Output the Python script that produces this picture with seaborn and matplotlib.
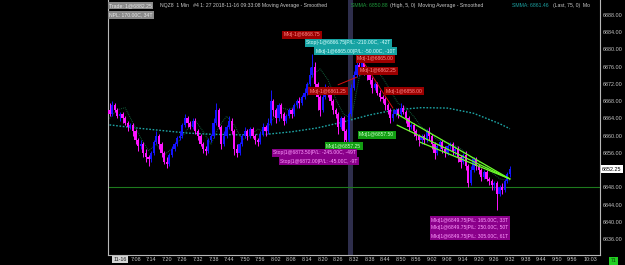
import matplotlib
matplotlib.use("Agg")
import matplotlib.pyplot as plt
import matplotlib.transforms as mtrans
import numpy as np
import pandas as pd
import seaborn as sns

# ---------------- data ----------------
first_open = 6866.0
closes = [6865, 6867, 6866, 6864.5, 6865, 6864, 6863, 6862, 6862.5, 6861,
          6859, 6857.5, 6858, 6856, 6855, 6854.5, 6856, 6858.5, 6860, 6858,
          6856, 6854, 6853.5, 6855.5, 6857, 6858, 6859.5, 6860, 6862.5, 6864,
          6863, 6862, 6863.5, 6861, 6860, 6858, 6857, 6856.5, 6859, 6860,
          6863, 6866, 6862, 6858, 6860, 6862, 6863.5, 6861, 6857, 6856,
          6858, 6860, 6861, 6860, 6861.5, 6860, 6859, 6858.5, 6860.5, 6862,
          6861, 6863, 6868, 6866, 6864, 6867, 6865, 6863.5, 6864.5, 6866,
          6865, 6867, 6868, 6867.5, 6869, 6870, 6872, 6874, 6876, 6872,
          6869, 6866, 6869, 6871, 6870, 6868, 6866, 6865, 6862, 6864,
          6861, 6859, 6865, 6871, 6874, 6876.5, 6875, 6877, 6875, 6874,
          6873, 6871, 6872, 6870, 6869, 6868.5, 6867, 6866, 6864, 6865,
          6866, 6865, 6866.5, 6865.5, 6864, 6862, 6862.5, 6861, 6860, 6859,
          6860, 6859, 6861, 6860, 6858, 6856, 6857.5, 6858.5, 6857, 6856,
          6857.5, 6858, 6856.5, 6857, 6855, 6854, 6855.5, 6853, 6849, 6852,
          6854.5, 6853, 6852, 6850.5, 6851.5, 6850, 6849.5, 6848.5, 6849, 6846.5,
          6848, 6847.5, 6849.5, 6851, 6852.25]
highs = [6867.5, 6868, 6867.5, 6866.5, 6865.5, 6865.5, 6864.5, 6863.5, 6863, 6863,
         6861.5, 6859.5, 6859, 6858.5, 6857, 6855.5, 6856.5, 6859, 6861, 6860.5,
         6858.5, 6856.5, 6855, 6856, 6857.5, 6858.5, 6860, 6861, 6863, 6865,
         6864.5, 6863.5, 6864, 6864, 6861.5, 6860.5, 6858.5, 6857.5, 6859.5, 6860.5,
         6864, 6867.5, 6866.5, 6862.5, 6861, 6862.5, 6864.5, 6864, 6861.5, 6858,
         6858.5, 6860.5, 6862, 6861.5, 6862, 6862, 6860.5, 6859.5, 6861, 6863,
         6862.5, 6864, 6870.5, 6868.5, 6866.5, 6867.5, 6867.5, 6865.5, 6865, 6866.5,
         6866.5, 6867.5, 6868.5, 6869, 6869.5, 6871, 6872.5, 6876, 6879, 6877,
         6872.5, 6869.5, 6870, 6872, 6871.5, 6870.5, 6868.5, 6866.5, 6865.5, 6864.5,
         6864.5, 6861.5, 6865.5, 6872, 6875, 6877.5, 6877.5, 6878, 6877.5, 6875.5,
         6874.5, 6873.5, 6872.5, 6872.5, 6870.5, 6869.5, 6869, 6867.5, 6866.5, 6866,
         6866.5, 6866.5, 6867.5, 6867, 6866, 6864.5, 6863, 6863, 6861.5, 6860.5,
         6860.5, 6860.5, 6861.5, 6862, 6860.5, 6858.5, 6858, 6859, 6859, 6857.5,
         6858, 6858.5, 6858.5, 6857.5, 6857.5, 6855.5, 6856, 6856.5, 6853.5, 6853,
         6855, 6855, 6853.5, 6852.5, 6852, 6852, 6850.5, 6850, 6849.5, 6849.5,
         6848.5, 6849, 6850, 6851.5, 6853]
lows = [6864.5, 6864.5, 6865.5, 6864, 6863.5, 6863, 6862.5, 6861, 6861.5, 6860,
        6858, 6856.5, 6857, 6855, 6854, 6853, 6854, 6855.5, 6858, 6857,
        6855, 6853.5, 6852.5, 6853, 6855, 6856.5, 6857.5, 6859, 6859.5, 6862,
        6862, 6861.5, 6861.5, 6860.5, 6859, 6857.5, 6856, 6855.5, 6856, 6858.5,
        6859.5, 6862.5, 6861.5, 6857, 6857.5, 6859.5, 6861.5, 6860.5, 6855.5, 6855,
        6855.5, 6857.5, 6859.5, 6859, 6859.5, 6859.5, 6858, 6857.5, 6858, 6860,
        6860, 6860.5, 6862.5, 6864.5, 6863, 6863.5, 6864, 6862.5, 6863, 6864,
        6864, 6864.5, 6866.5, 6866.5, 6867, 6868.5, 6869.5, 6871.5, 6873.5, 6871,
        6866, 6864.5, 6865.5, 6868.5, 6869, 6867, 6865, 6864, 6860.5, 6861.5,
        6858, 6857, 6858.5, 6864.5, 6870.5, 6873.5, 6874, 6874.5, 6874, 6873,
        6872, 6870, 6870.5, 6869.5, 6868, 6867.5, 6866, 6865, 6863, 6863.5,
        6864.5, 6864, 6864.5, 6865, 6863, 6861, 6861.5, 6860, 6859, 6857.5,
        6858, 6858, 6858.5, 6859, 6857, 6854.5, 6855.5, 6857, 6856, 6855,
        6855.5, 6857, 6855.5, 6855.5, 6854, 6852.5, 6853.5, 6852, 6848, 6848.5,
        6851.5, 6852, 6851, 6849.5, 6850, 6849.5, 6848.5, 6847.5, 6847.5, 6842.8,
        6846, 6846.5, 6847, 6849, 6850.5]

slow_idx = [0, 10, 20, 30, 40, 50, 60, 70, 80, 90, 100, 110, 120, 130, 140, 150, 154]
slow_ma = [6862.5, 6861.8, 6861.2, 6860.6, 6860.3, 6860.2, 6860.3, 6860.9, 6861.8,
           6863.2, 6864.8, 6866.0, 6866.5, 6866.4, 6865.2, 6862.8, 6861.6]
fast_idx = [0, 3, 6, 9, 12, 15, 18, 21, 24, 27, 30, 33, 36, 39, 42, 45, 48, 51, 54,
            57, 60, 63, 66, 69, 72, 75, 78, 81, 84, 87, 90, 93, 96, 99, 102, 105,
            108, 111, 114, 117, 120, 123, 126, 129, 132, 135, 138, 141, 144, 147, 150, 154]
fast_ma = [6864, 6866, 6866.5, 6863, 6859.5, 6856.5, 6858, 6855.5, 6857, 6859, 6861.5,
           6863.5, 6861, 6858, 6862, 6864.5, 6862.5, 6859, 6860, 6861.5, 6861, 6864,
           6866.5, 6866, 6867, 6869.5, 6874, 6875.5, 6873, 6868.5, 6865, 6864, 6873.5,
           6876, 6875.5, 6873.5, 6870.5, 6867.5, 6866.5, 6864.5, 6862, 6861, 6859,
           6858.5, 6858, 6857, 6855.5, 6854, 6853.5, 6851.5, 6850, 6849.5]

time_tick_pos = [4] + list(range(10, 179, 6)) + [185]
time_tick_labels = ["11-16", "7:08", "7:14", "7:20", "7:26", "7:32", "7:38", "7:44",
                    "7:50", "7:56", "8:02", "8:08", "8:14", "8:20", "8:26", "8:32",
                    "8:38", "8:44", "8:50", "8:56", "9:02", "9:08", "9:14", "9:20",
                    "9:26", "9:32", "9:38", "9:44", "9:50", "9:56", "10:03"]
price_ticks = [6888, 6884, 6880, 6876, 6872, 6868, 6864, 6860, 6856, 6852, 6848,
               6844, 6840, 6836]
last_price = 6852.25
level_line = 6848.0

# order labels: (text, bar position, price, kind)
order_labels = [
    ("Mkt|-1@6868.75", 67.1, 6883.4, "red"),
    ("Stop|-1@6866.75|P/L: -210.00C, -42T", 75.6, 6881.6, "teal"),
    ("Mkt|-1@6865.00|P/L: -50.00C, -10T", 79.4, 6879.6, "teal"),
    ("Mkt|-1@6865.00", 95.2, 6877.8, "red"),
    ("Mkt|-1@6862.25", 96.3, 6875.1, "red"),
    ("Mkt|-1@6861.25", 77.1, 6870.3, "red"),
    ("Mkt|-1@6858.00", 106.3, 6870.3, "red"),
    ("Mkt|1@6857.50", 96.0, 6860.2, "green"),
    ("Mkt|1@6857.25", 83.3, 6857.6, "green"),
    ("Stop|1@6873.50|P/L: -245.00C, -49T", 62.9, 6856.0, "purple"),
    ("Stop|1@6872.00|P/L: -45.00C, -9T", 65.6, 6854.1, "purple"),
    ("Mkt|1@6849.75|P/L: 165.00C, 33T", 123.7, 6840.4, "purple"),
    ("Mkt|1@6849.75|P/L: 250.00C, 50T", 123.7, 6838.6, "purple"),
    ("Mkt|1@6849.75|P/L: 305.00C, 61T", 123.7, 6836.7, "purple"),
]
# drawn trend lines: (x0, p0, x1, p1)
lime_lines = [(110.6, 6865.0, 154.0, 6849.95),
              (110.6, 6862.45, 154.0, 6849.95),
              (119.4, 6858.5, 154.0, 6849.95)]
red_lines = [(87.9, 6871.8, 95.2, 6873.6),
             (97.1, 6877.6, 109.0, 6866.4)]
band = (91.6, 93.8)

# ---------------- style ----------------
sns.set_theme(style="dark", rc={"axes.facecolor": "black", "figure.facecolor": "black"})
plt.rcParams["font.family"] = ["Liberation Sans", "DejaVu Sans"]

W, H = 625, 265
fig = plt.figure(figsize=(W / 100, H / 100), dpi=100, facecolor="black")
ax = fig.add_axes([108 / W, 10 / H, 492 / W, 255 / H])
ax.set_facecolor("black")

n = len(closes)
opens = [first_open] + closes[:-1]
df = pd.DataFrame({"i": np.arange(n), "open": opens, "close": closes,
                   "high": highs, "low": lows})
df["up"] = df["close"] >= df["open"]
df["color"] = np.where(df["up"], "#1414ff", "#ff14ff")
df["bottom"] = df[["open", "close"]].min(axis=1)
df["height"] = (df["close"] - df["open"]).abs().clip(lower=0.25)

ax.axvspan(band[0], band[1], color="#2e2e4c", zorder=0, lw=0)
ax.axhline(level_line, color="#1d7a1d", lw=0.8, zorder=1)

sns.lineplot(x=slow_idx, y=slow_ma, ax=ax, color="#1ea4a4", lw=1.0,
             linestyle=(0, (1.2, 1.2)), zorder=2)
sns.lineplot(x=fast_idx, y=fast_ma, ax=ax, color="#12603c", lw=0.7,
             linestyle=(0, (1, 1)), zorder=2)

ax.vlines(df["i"], df["low"], df["high"], colors=df["color"], lw=0.7, zorder=3)
ax.bar(df["i"], df["height"], bottom=df["bottom"], width=0.8, color=df["color"],
       lw=0, zorder=3)

for x0, p0, x1, p1 in lime_lines:
    ax.plot([x0, x1], [p0, p1], color="#6cff2a", lw=0.9, zorder=4)
for x0, p0, x1, p1 in red_lines:
    ax.plot([x0, x1], [p0, p1], color="#d81010", lw=0.7, zorder=4)

styles = {"red": ("#9c0000", "#ff8a8a"), "teal": ("#16a3a3", "#d8ffff"),
          "green": ("#129e12", "#c8ffc8"), "purple": ("#8a008a", "#ff9cff")}
for txt, xi, p, kind in order_labels:
    fc, tc = styles[kind]
    ax.text(xi, p, txt, fontsize=3.6, color=tc, ha="left", va="center", zorder=6,
            bbox=dict(boxstyle="square,pad=0.3", fc=fc, ec="none"))

ax.set_xlim(-0.58, 188.65)
ax.set_ylim(6832.31, 6891.48)

ax.yaxis.tick_right()
ax.set_yticks(price_ticks)
ax.set_yticklabels([f"{p:.2f}" for p in price_ticks])
ax.set_xticks(time_tick_pos)
ax.set_xticklabels(time_tick_labels)
ax.tick_params(axis="both", length=0, labelsize=3.9, colors="#c8c8c8")
ax.tick_params(axis="y", pad=2)
ax.tick_params(axis="x", pad=1.5)
lbl0 = ax.get_xticklabels()[0]
lbl0.set_color("#202020")
lbl0.set_bbox(dict(boxstyle="square,pad=0.2", fc="#d4d4d4", ec="none"))
ax.grid(False)
for s in ["left", "right", "bottom"]:
    ax.spines[s].set_visible(True)
    ax.spines[s].set_color("#b8b8b8")
    ax.spines[s].set_linewidth(0.8)
ax.spines["top"].set_visible(False)

blend = mtrans.blended_transform_factory(ax.transAxes, ax.transData)
ax.text(1.004, last_price, f"{last_price:.2f}", transform=blend, fontsize=3.9,
        color="black", ha="left", va="center", clip_on=False,
        bbox=dict(boxstyle="square,pad=0.25", fc="white", ec="none"))

# header texts (figure pixel positions)
def ftext(x, y, s, color, **kw):
    fig.text(x / W, 1 - y / H, s, color=color, fontsize=3.7, ha="left", va="center", **kw)

ftext(109, 5.5, "Trade: 1@6882.25", "#e6e6e6",
      bbox=dict(boxstyle="square,pad=0.25", fc="#8a8a8a", ec="none"))
ftext(160, 5.5, "NQZ8  1 Min   #4 1: 27 2018-11-16 09:33:08 Moving Average - Smoothed", "#c8c8c8")
ftext(351, 5.5, "SMMA: 6850.88", "#1f9a3c")
ftext(390, 5.5, "(High, 5, 0)  Moving Average - Smoothed", "#c8c8c8")
ftext(512, 5.5, "SMMA: 6861.46", "#1ca0a0")
ftext(553, 5.5, "(Last, 75, 0)  Mo", "#c8c8c8")
ftext(109, 15, "NPL: 170.00C, 34T", "#e6e6e6",
      bbox=dict(boxstyle="square,pad=0.25", fc="#8a8a8a", ec="none"))
ftext(611, 261, "71", "#0a3a0a",
      bbox=dict(boxstyle="square,pad=0.3", fc="#22d022", ec="none"))

fig.savefig("out.png", dpi=100, facecolor="black")
